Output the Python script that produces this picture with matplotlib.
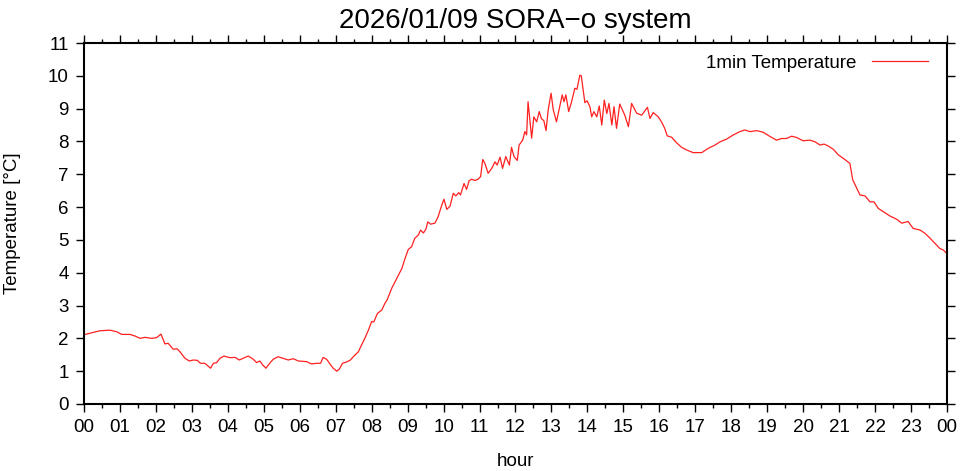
import matplotlib
matplotlib.use('Agg')
import matplotlib.pyplot as plt
from matplotlib.ticker import MultipleLocator

plt.rcParams['font.family'] = ['Liberation Sans', 'DejaVu Sans']

# Time of day (hours) and 1 minute temperature (degC)
hours = [0.03, 0.44, 0.72, 0.91, 1.05, 1.28, 1.42, 1.56, 1.70, 1.88,
         2.02, 2.14, 2.19, 2.25, 2.34, 2.48, 2.59, 2.67, 2.81, 2.93,
         3.04, 3.15, 3.24, 3.36, 3.52, 3.60, 3.69, 3.78, 3.89, 4.06,
         4.20, 4.32, 4.48, 4.57, 4.71, 4.80, 4.89, 4.97, 5.06, 5.15,
         5.26, 5.40, 5.54, 5.68, 5.82, 5.96, 6.19, 6.33, 6.47, 6.58,
         6.65, 6.75, 6.84, 6.93, 7.03, 7.10, 7.19, 7.30, 7.40, 7.49,
         7.63, 7.72, 7.81, 7.91, 8.00, 8.06, 8.16, 8.28, 8.37, 8.43,
         8.56, 8.70, 8.84, 8.93, 9.02, 9.11, 9.20, 9.30, 9.36, 9.44,
         9.51, 9.56, 9.64, 9.76, 9.85, 9.92, 10.01, 10.09, 10.18, 10.27,
         10.34, 10.42, 10.47, 10.57, 10.64, 10.71, 10.78, 10.87, 10.96, 11.03,
         11.09, 11.15, 11.24, 11.34, 11.43, 11.49, 11.57, 11.64, 11.73, 11.83,
         11.89, 11.96, 12.05, 12.10, 12.20, 12.26, 12.31, 12.35, 12.45, 12.51,
         12.59, 12.66, 12.72, 12.79, 12.85, 12.91, 12.99, 13.05, 13.14, 13.21,
         13.30, 13.35, 13.40, 13.48, 13.56, 13.65, 13.71, 13.79, 13.83, 13.88,
         13.93, 13.99, 14.07, 14.12, 14.18, 14.26, 14.33, 14.40, 14.47, 14.54,
         14.60, 14.68, 14.74, 14.81, 14.90, 15.04, 15.14, 15.23, 15.37, 15.51,
         15.67, 15.74, 15.83, 15.97, 16.06, 16.15, 16.22, 16.34, 16.48, 16.62,
         16.76, 16.94, 17.18, 17.36, 17.55, 17.69, 17.87, 18.06, 18.24, 18.38,
         18.52, 18.71, 18.89, 19.08, 19.26, 19.40, 19.54, 19.68, 19.82, 20.00,
         20.19, 20.33, 20.47, 20.58, 20.70, 20.84, 20.98, 21.16, 21.30, 21.38,
         21.47, 21.58, 21.72, 21.86, 21.97, 22.09, 22.23, 22.41, 22.60, 22.74,
         22.92, 23.06, 23.25, 23.39, 23.53, 23.66, 23.80, 23.90, 23.99]
temps = [2.12, 2.23, 2.25, 2.20, 2.12, 2.12, 2.07, 2.00, 2.03, 2.00,
         2.02, 2.13, 2.00, 1.83, 1.85, 1.67, 1.68, 1.59, 1.39, 1.31,
         1.34, 1.33, 1.24, 1.24, 1.09, 1.24, 1.26, 1.39, 1.46, 1.41,
         1.42, 1.34, 1.42, 1.46, 1.36, 1.26, 1.31, 1.19, 1.09, 1.22,
         1.36, 1.44, 1.39, 1.34, 1.38, 1.31, 1.29, 1.22, 1.24, 1.24,
         1.42, 1.36, 1.22, 1.09, 1.00, 1.06, 1.24, 1.28, 1.33, 1.44,
         1.59, 1.80, 2.00, 2.25, 2.51, 2.50, 2.76, 2.86, 3.07, 3.17,
         3.53, 3.83, 4.13, 4.44, 4.71, 4.79, 5.05, 5.15, 5.30, 5.21,
         5.33, 5.55, 5.48, 5.51, 5.71, 5.96, 6.24, 5.93, 6.03, 6.42,
         6.34, 6.44, 6.37, 6.72, 6.54, 6.80, 6.85, 6.81, 6.85, 6.93,
         7.45, 7.33, 7.03, 7.18, 7.38, 7.28, 7.52, 7.18, 7.54, 7.28,
         7.82, 7.54, 7.42, 7.89, 8.04, 8.30, 8.20, 9.21, 8.10, 8.75,
         8.60, 8.91, 8.70, 8.63, 8.33, 8.96, 9.47, 8.97, 8.60, 8.96,
         9.42, 9.21, 9.42, 8.91, 9.21, 9.62, 9.59, 10.02, 10.00, 9.59,
         9.18, 9.24, 9.06, 8.75, 8.91, 8.75, 9.08, 8.50, 9.26, 8.85,
         9.16, 8.50, 9.06, 8.40, 9.14, 8.80, 8.45, 9.16, 8.86, 8.80,
         9.04, 8.70, 8.88, 8.75, 8.60, 8.40, 8.17, 8.13, 7.96, 7.82,
         7.74, 7.66, 7.66, 7.79, 7.89, 7.99, 8.07, 8.20, 8.30, 8.35,
         8.30, 8.33, 8.28, 8.15, 8.04, 8.09, 8.09, 8.16, 8.12, 8.02,
         8.04, 7.99, 7.89, 7.92, 7.86, 7.76, 7.59, 7.45, 7.33, 6.83,
         6.62, 6.37, 6.34, 6.16, 6.16, 5.96, 5.86, 5.73, 5.63, 5.51,
         5.56, 5.35, 5.30, 5.20, 5.05, 4.90, 4.74, 4.69, 4.59]

hour_ticks = list(range(0, 25))
hour_labels = ['%02d' % (h % 24) for h in hour_ticks]
temp_ticks = list(range(0, 12))

fig = plt.figure(figsize=(9.61, 4.71), dpi=100)
ax = fig.add_axes([0.0874, 0.1423, 0.8980, 0.7664])

ax.plot(hours, temps, color='#ff2020', linewidth=0.9, label='1min Temperature')

ax.set_xlim(0, 24)
ax.set_ylim(0, 11)
ax.set_xticks(hour_ticks)
ax.set_xticklabels(hour_labels)
ax.set_yticks(temp_ticks)
ax.xaxis.set_minor_locator(MultipleLocator(0.5))

# gnuplot style border and ticks on every side
for s in ax.spines.values():
    s.set_linewidth(1.5)
ax.tick_params(axis='both', which='major', direction='out', length=6, width=1.0,
               labelsize=13.5, top=True, right=True, pad=5)
ax.tick_params(axis='x', which='minor', direction='out', length=3, width=1.0,
               top=True, bottom=True)
ax.tick_params(axis='y', which='minor', left=False, right=False)

ax.set_title('2026/01/09 SORA\u2212o system', fontsize=20, pad=11)
ax.set_xlabel('hour', fontsize=13.5, labelpad=12)
ax.set_ylabel('Temperature [\u00b0C]', fontsize=13.5, labelpad=19)

ax.legend(loc='upper right', bbox_to_anchor=(0.993, 1.004), frameon=False,
          fontsize=13.5, markerfirst=False, handlelength=3.0,
          handletextpad=0.8, borderaxespad=0.3)

fig.savefig('out.png', dpi=100)
